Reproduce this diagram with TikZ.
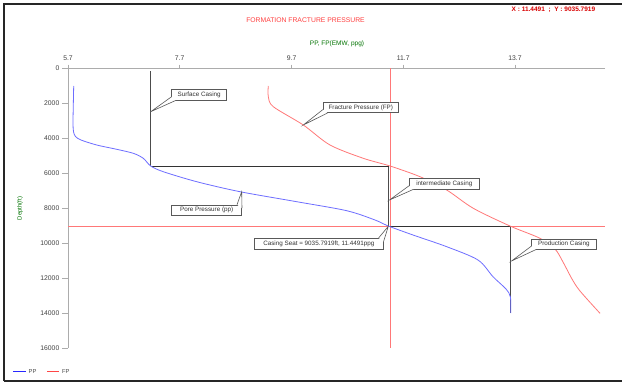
\documentclass[tikz,border=0pt]{standalone}
\usepackage{fontspec}
\setmainfont{Liberation Sans}
\definecolor{ppblue}{RGB}{110,110,255}
\definecolor{fpred}{RGB}{255,120,120}
\definecolor{legblue}{RGB}{40,40,255}
\definecolor{legred}{RGB}{255,70,70}
\begin{document}
\begin{tikzpicture}[x=1pt,y=-1pt,
  axisline/.style={draw=gray!65, line width=0.9pt},
  ticklbl/.style={font=\fontsize{6.8}{7}\selectfont, text=black!75, inner sep=0pt},
  calloutbox/.style={draw=gray!70!black, line width=0.6pt, fill=white, inner sep=0pt,
     font=\fontsize{6.3}{7}\selectfont, text=black!80},
  tailfill/.style={fill=white},
  taildraw/.style={draw=gray!70!black, line width=0.6pt},
  casing/.style={draw=gray!60!black, line width=1pt},
  shoe/.style={draw=black!80, line width=0.8pt},
  ppcurve/.style={draw=ppblue, line width=0.8pt},
  fpcurve/.style={draw=fpred, line width=0.8pt},
  cross/.style={draw=fpred, line width=0.8pt},
  legtext/.style={font=\fontsize{5.8}{6}\selectfont, text=black!70, inner sep=0pt, anchor=west}]
\clip (0,0) rectangle (622,383);
\fill[white] (0,0) rectangle (622,383);
% frame
\draw[line width=1.6pt, black!85] (4,381) -- (4,4) -- (640,4);
\draw[line width=1.6pt, black!85] (4,381) -- (640,381);
% titles
\node[font=\fontsize{6.8}{7}\selectfont, text=red!75, inner sep=0pt] (title) at (305.5,20) {FORMATION FRACTURE PRESSURE};
\node[font=\fontsize{6.5}{7}\selectfont, text=green!45!black, inner sep=0pt] (xtitle) at (337,44) {PP, FP(EMW, ppg)};
\node[font=\bfseries\fontsize{6.5}{7}\selectfont, text=red!85!black, inner sep=0pt, anchor=west] (xyread) at (511.5,9.3) {X : 11.4491 \ ; \ Y : 9035.7919};
\node[font=\fontsize{6}{7}\selectfont, text=green!45!black, inner sep=0pt, rotate=90] (ytitle) at (20,208.5) {Depth(ft)};
% axes
\coordinate (origin) at (68,68.3);
\coordinate (xend) at (605,68.3);
\coordinate (yend) at (68,348);
\draw[axisline] (xend) -- (origin) -- (yend);
% x ticks
\foreach \v/\x/\n in {5.7/68/a,7.7/179.6/b,9.7/291.7/c,11.7/403.3/d,13.7/515/e}{
  \draw[axisline] (\x,64.5) -- (\x,68.3);
  \node[ticklbl] (xt\n) at (\x,58.5) {\v};
}
% y ticks
\foreach \v/\y in {0/68.3,2000/103.3,4000/138.2,6000/173.2,8000/208.1,10000/243.1,12000/278.1,14000/313,16000/348}{
  \draw[axisline] (62,\y) -- (68,\y);
  \node[ticklbl, anchor=east] (yt\v) at (59.5,\y) {\v};
}
% crosshair
\coordinate (chl) at (68,226.3);
\coordinate (chr) at (605,226.3);
\coordinate (cht) at (390,68.3);
\coordinate (chb) at (390,348);
\draw[cross] (chl) -- (chr);
\draw[cross] (cht) -- (chb);
% casing lines
\coordinate (sc top) at (150.7,71);
\coordinate (sc shoe) at (150.7,166);
\coordinate (ic top) at (388.5,166);
\coordinate (ic shoe) at (388.5,226.3);
\coordinate (pc top) at (510.7,226.3);
\coordinate (pc shoe) at (510.7,313);
\draw[casing] (sc top) -- (sc shoe);
\draw[casing] (ic top) -- (ic shoe);
\draw[casing] (pc top) -- (pc shoe);
\draw[shoe] (sc shoe) -- (ic top);
\draw[shoe] (ic shoe) -- (pc top);
% curves
\draw[fpcurve] plot[smooth, tension=0.5] coordinates {(268.3,86) (268.3,96.7) (273.3,106.7) (303.3,125) (330,145) (363.3,158.3) (390,166) (420,176.7) (446.7,190) (473.3,208.3) (510,226) (540,238.3) (555,249) (563,262) (572,279) (580,291) (600,313.3)};
\draw[ppcurve] plot[smooth, tension=0.5] coordinates {(73.7,86) (73.2,110) (73,123.3) (73.5,131.7) (75.5,136.5) (81,140) (96.7,145) (116.7,149.3) (133.3,153.3) (143.3,158.3) (150.7,166) (163.3,171.7) (196.7,181.7) (240,191.7) (296.7,201.7) (346.7,210.7) (375,220) (388.3,226) (413,235) (446.7,246.7) (478,260) (493,276.7) (506,289) (510.4,297) (510.7,313)};
% callouts
\coordinate (p sc) at (150.7,111.7);
\coordinate (p fp) at (303.3,125);
\coordinate (p pp) at (241.7,191.7);
\coordinate (p ic) at (389.5,200);
\coordinate (p cs) at (388.3,226.3);
\coordinate (p pc) at (511.5,261);
\node[calloutbox, minimum width=55pt, minimum height=10.7pt] (bsc) at (199.2,94.7) {Surface Casing};
\node[calloutbox, minimum width=75pt, minimum height=10pt] (bfp) at (360.8,107.7) {Fracture Pressure (FP)};
\node[calloutbox, minimum width=70pt, minimum height=10.7pt] (bpp) at (206.7,210.35) {Pore Pressure (pp)};
\node[calloutbox, minimum width=70pt, minimum height=10.7pt] (bic) at (444.3,183.65) {intermediate Casing};
\node[calloutbox, minimum width=129pt, minimum height=10.7pt] (bcs) at (318.8,243.65) {Casing Seat = 9035.7919ft, 11.4491ppg};
\node[calloutbox, minimum width=64.3pt, minimum height=10pt] (bpc) at (563.85,244.3) {Production Casing};
% tails (lower-left)
\foreach \b/\p in {bsc/p sc, bfp/p fp, bic/p ic, bpc/p pc}{
  \fill[tailfill] ([yshift=3.5pt]\b.south west) -- (\p) -- ([xshift=4.5pt]\b.south west) -- cycle;
  \draw[taildraw] ([yshift=3.5pt]\b.south west) -- (\p) -- ([xshift=4.5pt]\b.south west);
}
% tails (upper-right)
\foreach \b/\p in {bpp/p pp, bcs/p cs}{
  \fill[tailfill] ([xshift=-5pt]\b.north east) -- (\p) -- ([yshift=-3.5pt]\b.north east) -- cycle;
  \draw[taildraw] ([xshift=-5pt]\b.north east) -- (\p) -- ([yshift=-3.5pt]\b.north east);
}
% legend
\coordinate (legA1) at (13.3,371.7);
\coordinate (legA2) at (25.7,371.7);
\coordinate (legB1) at (47.3,371.7);
\coordinate (legB2) at (59.3,371.7);
\fill[legblue] ([yshift=0.7pt]legA1) rectangle ([yshift=-0.7pt]legA2);
\fill[legred] ([yshift=0.7pt]legB1) rectangle ([yshift=-0.7pt]legB2);
\node[legtext] (legPP) at (28.5,371.7) {PP};
\node[legtext] (legFP) at (62,371.7) {FP};
\end{tikzpicture}
\end{document}
